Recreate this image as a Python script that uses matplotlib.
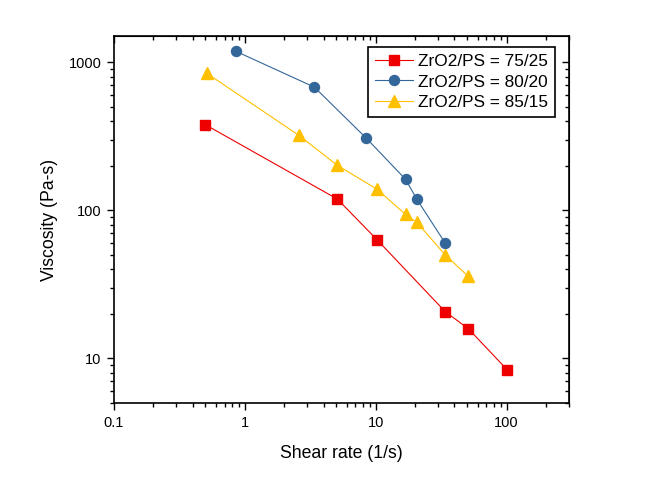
import matplotlib
matplotlib.use("Agg")
import matplotlib.pyplot as plt
from matplotlib.ticker import LogLocator, NullFormatter, FixedLocator, FixedFormatter

plt.rcParams['font.family'] = ['Liberation Sans', 'DejaVu Sans']

# data
x_75 = [0.5, 5.1, 10.2, 34, 51, 101]
y_75 = [378, 119, 63.5, 20.7, 15.9, 8.4]
x_80 = [0.85, 3.4, 8.5, 16.9, 20.6, 34]
y_80 = [1186, 678, 306, 162, 119, 60]
x_85 = [0.51, 2.58, 5.1, 10.2, 16.9, 20.6, 34, 51]
y_85 = [843, 321, 201, 139, 94, 83, 50, 35.8]

xticks = [0.1, 1, 10, 100]
xticklabels = ["0.1", "1", "10", "100"]
yticks = [10, 100, 1000]
yticklabels = ["10", "100", "1000"]

fig = plt.figure(figsize=(6.49, 4.94), dpi=100)
ax = fig.add_axes([0.1757, 0.184, 0.701, 0.743])

ax.plot(x_75, y_75, color="#EE0000", lw=0.8, marker="s", ms=6.5, label="ZrO2/PS = 75/25")
ax.plot(x_80, y_80, color="#336699", lw=0.8, marker="o", ms=7.2, label="ZrO2/PS = 80/20")
ax.plot(x_85, y_85, color="#FFC000", lw=0.8, marker="^", ms=8, label="ZrO2/PS = 85/15")

ax.set_xscale("log")
ax.set_yscale("log")
ax.set_xlim(0.1, 300)
ax.set_ylim(5, 1500)

ax.xaxis.set_major_locator(FixedLocator(xticks))
ax.xaxis.set_major_formatter(FixedFormatter(xticklabels))
ax.yaxis.set_major_locator(FixedLocator(yticks))
ax.yaxis.set_major_formatter(FixedFormatter(yticklabels))
ax.xaxis.set_minor_locator(LogLocator(base=10, subs=range(2, 10), numticks=20))
ax.yaxis.set_minor_locator(LogLocator(base=10, subs=range(2, 10), numticks=20))
ax.xaxis.set_minor_formatter(NullFormatter())
ax.yaxis.set_minor_formatter(NullFormatter())

ax.tick_params(which="both", direction="out", labelsize=10.5, width=1, top=False, right=False, pad=4)
ax.tick_params(which="major", length=5)
ax.tick_params(which="minor", length=3)

# mirrored inward ticks on top and right
axt = ax.secondary_xaxis("top")
axt.xaxis.set_major_locator(FixedLocator(xticks))
axt.xaxis.set_minor_locator(LogLocator(base=10, subs=range(2, 10), numticks=20))
axt.tick_params(which="both", direction="in", labeltop=False, width=1)
axt.tick_params(which="major", length=5)
axt.tick_params(which="minor", length=3)
axr = ax.secondary_yaxis("right")
axr.yaxis.set_major_locator(FixedLocator(yticks))
axr.yaxis.set_minor_locator(LogLocator(base=10, subs=range(2, 10), numticks=20))
axr.tick_params(which="both", direction="in", labelright=False, width=1)
axr.tick_params(which="major", length=5)
axr.tick_params(which="minor", length=3)

for s in ax.spines.values():
    s.set_linewidth(1.2)

ax.set_xlabel("Shear rate (1/s)", fontsize=12.7, labelpad=11)
ax.set_ylabel("Viscosity (Pa-s)", fontsize=12.7, labelpad=8)

# legend box placed where it sits in the reference (figure pixels 368..549, 47..117)
leg = ax.legend(loc="upper left", bbox_to_anchor=(368 / 649, 1 - 47 / 494),
                bbox_transform=fig.transFigure, borderaxespad=0,
                fontsize=12.4, frameon=True, fancybox=False,
                edgecolor="black", framealpha=1, borderpad=0.4, labelspacing=0.32,
                handlelength=2.2, handletextpad=0.3)
leg.get_frame().set_linewidth(1.2)

fig.savefig("out.png", dpi=100)
